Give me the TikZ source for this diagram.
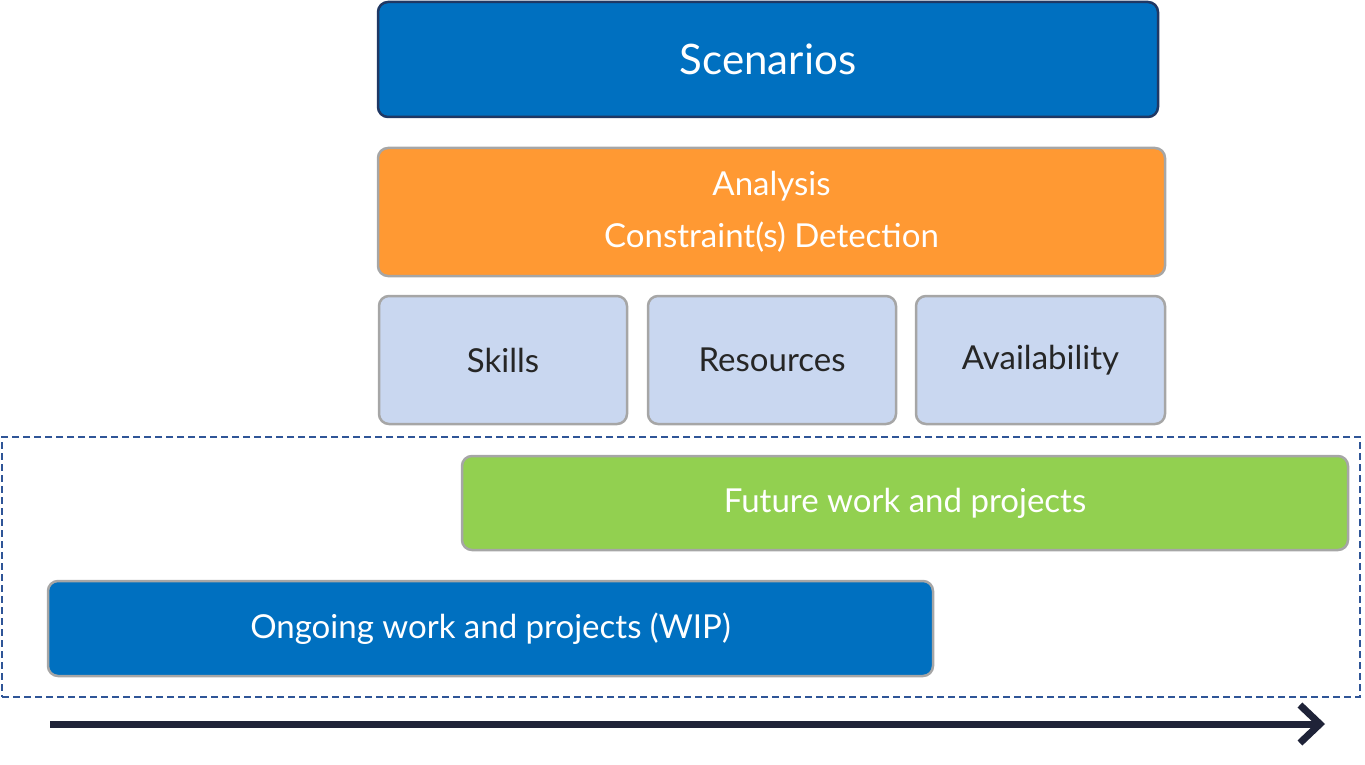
\documentclass[tikz,border=0pt]{standalone}
\usepackage{fontspec}
\setmainfont{Lato}
\usetikzlibrary{arrows.meta}
\definecolor{blu}{HTML}{0070C0}
\definecolor{navy}{HTML}{1F3864}
\definecolor{dsh}{HTML}{2F5597}
\definecolor{org}{HTML}{FF9933}
\definecolor{lbl}{HTML}{C9D7F0}
\definecolor{grn}{HTML}{92D050}
\definecolor{gry}{HTML}{A6A6A6}
\definecolor{arr}{HTML}{1F2338}
\begin{document}
\begin{tikzpicture}[x=1pt,y=-1pt,
 bx/.style={draw=gry,line width=2.5pt,rounded corners=10pt,text=white,font=\fontsize{33}{40}\selectfont},
 sb/.style={bx,fill=lbl,text=black!85}]
\useasboundingbox (0,0) rectangle (1365,765);
\node[bx,fill=blu,draw=navy,font=\fontsize{42}{48}\selectfont,minimum width=780,minimum height=115] (sc) at (768,59.5) {Scenarios};
\node[bx,fill=org,minimum width=787,minimum height=128,align=center] (an) at (771.5,212) {Analysis\\[12pt]Constraint(s) Detection};
\node[sb,minimum width=248,minimum height=128] (sk) at (503,360) {Skills};
\node[sb,minimum width=248,minimum height=128] (re) at (772,360) {Resources};
\node[sb,minimum width=249,minimum height=128] (av) at (1040.5,360) {Availability};
\node[draw=dsh,dash pattern=on 7pt off 4pt,line width=2pt,minimum width=1358,minimum height=260] (dz) at (681,567) {};
\node[bx,fill=grn,minimum width=886,minimum height=94] (fw) at (905,503) {Future work and projects};
\node[bx,fill=blu,minimum width=885,minimum height=95] (ow) at (490.5,628.5) {Ongoing work and projects (WIP)};
\coordinate (a1) at (50,724);
\coordinate (a2) at (1325,724);
\draw[arr,line width=7pt,-{Straight Barb[length=20pt,width=38pt,line width=7pt]}] (a1) -- (a2);
\end{tikzpicture}
\end{document}
